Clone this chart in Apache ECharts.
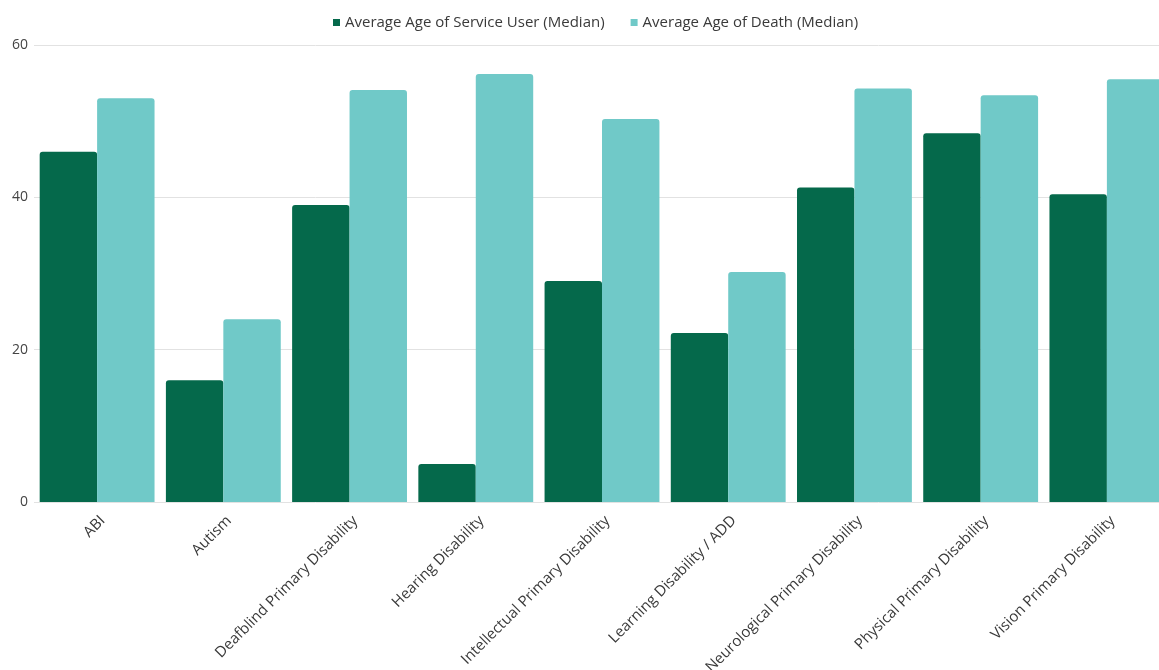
<!DOCTYPE html>
<html>
<head>
<meta charset="utf-8">
<script src="https://cdn.jsdelivr.net/npm/echarts@6/dist/echarts.min.js"></script>
<style>
  html, body { margin: 0; padding: 0; background: #ffffff; }
  #chart { width: 1159px; height: 670px; }
</style>
</head>
<body>
<div id="chart"></div>
<script>
// Disability categories along the x axis
const categories = [
  'ABI',
  'Autism',
  'Deafblind Primary Disability',
  'Hearing Disability',
  'Intellectual Primary Disability',
  'Learning Disability / ADD',
  'Neurological Primary Disability',
  'Physical Primary Disability',
  'Vision Primary Disability'
];

// Median ages per category
const serviceUserAge = [46, 16, 39, 5, 29, 22.2, 41.3, 48.4, 40.4];
const deathAge = [53, 24, 54.1, 56.2, 50.3, 30.2, 54.3, 53.4, 55.5];

const seriesNames = ['Average Age of Service User (Median)', 'Average Age of Death (Median)'];
const yTicks = { min: 0, max: 60, interval: 20 };

const chart = echarts.init(document.getElementById('chart'));
const fontFamily = '"Open Sans", "Noto Sans", sans-serif';

chart.setOption({
  animation: false,
  textStyle: { fontFamily: fontFamily },
  legend: {
    top: 10,
    left: 328,
    itemWidth: 7,
    itemHeight: 7,
    itemGap: 26,
    icon: 'rect',
    textStyle: { color: '#3a3a3a', fontSize: 15, fontFamily: fontFamily },
    data: seriesNames
  },
  grid: {
    left: 34,
    right: -11,
    top: 45,
    bottom: 168,
    containLabel: false,
    outerBoundsMode: 'none'
  },
  xAxis: {
    type: 'category',
    data: categories,
    axisLine: { show: false },
    axisTick: { show: false },
    axisLabel: {
      rotate: 45,
      interval: 0,
      margin: 22,
      padding: [0, -8, 0, 0],
      color: '#3a3a3a',
      fontSize: 15,
      fontFamily: fontFamily
    }
  },
  yAxis: {
    type: 'value',
    min: yTicks.min,
    max: yTicks.max,
    interval: yTicks.interval,
    axisLine: { show: false },
    axisTick: { show: false },
    axisLabel: {
      color: '#444',
      fontSize: 14,
      margin: 6,
      fontFamily: fontFamily
    },
    splitLine: { lineStyle: { color: '#e2e2e2', width: 1 } }
  },
  series: [
    {
      name: seriesNames[0],
      type: 'bar',
      data: serviceUserAge,
      barGap: '0%',
      barCategoryGap: '9%',
      itemStyle: { color: '#05694b', borderRadius: [3, 3, 0, 0] }
    },
    {
      name: seriesNames[1],
      type: 'bar',
      data: deathAge,
      itemStyle: { color: '#70c9c8', borderRadius: [3, 3, 0, 0] }
    }
  ]
});
</script>
</body>
</html>
